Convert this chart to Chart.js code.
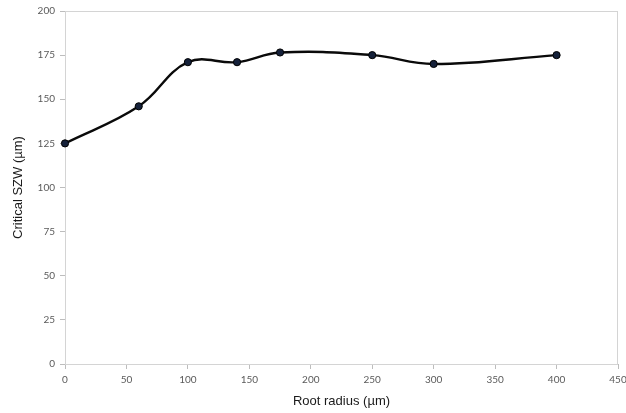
<!DOCTYPE html>
<html lang="en">
<head>
  <meta charset="UTF-8">
  <title>Critical SZW vs Root radius</title>
  <script src="https://cdn.jsdelivr.net/npm/chart.js"></script>
  <style>
    html, body {
      margin: 0;
      padding: 0;
      background: #ffffff;
    }
    #wrap {
      width: 626px;
      height: 413px;
    }
  </style>
</head>
<body>

  <div id="wrap"><canvas id="szwChart" width="626" height="413"></canvas></div>

  <script>
    // values
    const rootRadius = [0, 60, 100, 140, 175, 250, 300, 400];
    const criticalSzw = [125, 146, 171, 171, 176.5, 175, 170, 175];
    const xTicks = [0, 50, 100, 150, 200, 250, 300, 350, 400, 450];
    const yTicks = [0, 25, 50, 75, 100, 125, 150, 175, 200];

    const tickFont = { family: "Lato, 'Open Sans', sans-serif", size: 10 };
    const titleFont = { family: "'Liberation Sans', Arial, sans-serif", size: 13 };

    // light frame around the plot area
    const frame = {
      id: 'frame',
      beforeDatasetsDraw(chart) {
        const a = chart.chartArea;
        const ctx = chart.ctx;
        ctx.save();
        ctx.strokeStyle = '#d4d4d4';
        ctx.lineWidth = 1;
        ctx.strokeRect(a.left + 0.5, a.top + 0.5, a.right - a.left - 1, a.bottom - a.top);
        ctx.restore();
      }
    };

    new Chart(document.getElementById('szwChart'), {
      type: 'line',
      data: {
        datasets: [{
          data: rootRadius.map((x, i) => ({ x: x, y: criticalSzw[i] })),
          borderColor: '#0a0a0a',
          borderWidth: 2.4,
          tension: 0.4,
          pointRadius: 3.6,
          pointBackgroundColor: '#15213a',
          pointBorderColor: '#000000',
          pointBorderWidth: 1,
          fill: false,
          clip: false
        }]
      },
      plugins: [frame],
      options: {
        responsive: false,
        animation: false,
        layout: { padding: { top: 11, right: 8, bottom: 0, left: 0 } },
        plugins: {
          legend: { display: false },
          tooltip: { enabled: false }
        },
        scales: {
          x: {
            type: 'linear',
            min: 0,
            max: 450,
            afterBuildTicks: s => { s.ticks = xTicks.map(v => ({ value: v })); },
            afterFit: s => { s.height = 49; s.paddingRight = 0; s.paddingLeft = 0; },
            grid: { drawOnChartArea: false, color: '#bdbdbd', tickLength: 5 },
            border: { color: '#bdbdbd' },
            ticks: { font: tickFont, color: '#5a5a5a', padding: 5, maxRotation: 0 },
            title: {
              display: true,
              text: 'Root radius (µm)',
              font: titleFont,
              color: '#1a1a1a',
              padding: { top: 0, bottom: 4 }
            }
          },
          y: {
            min: 0,
            max: 200,
            afterBuildTicks: s => { s.ticks = yTicks.map(v => ({ value: v })); },
            afterFit: s => { s.width = 65; s.paddingTop = 0; s.paddingBottom = 0; },
            grid: { drawOnChartArea: false, color: '#bdbdbd', tickLength: 5 },
            border: { color: '#bdbdbd' },
            ticks: { font: tickFont, color: '#5a5a5a', padding: 5 },
            title: {
              display: true,
              text: 'Critical SZW (µm)',
              font: titleFont,
              color: '#1a1a1a',
              padding: { top: 11, bottom: 0 }
            }
          }
        }
      }
    });
  </script>

</body>
</html>
